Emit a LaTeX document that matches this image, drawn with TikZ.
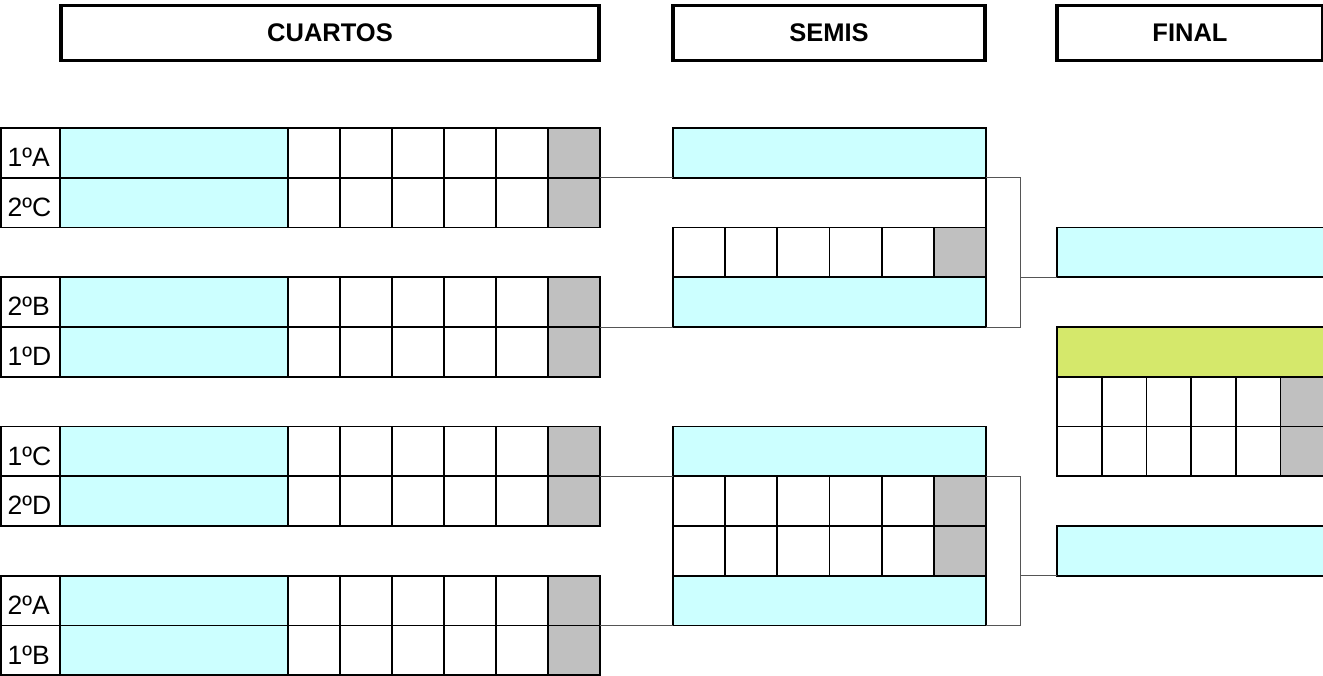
\documentclass[tikz,border=0pt]{standalone}
\usepackage{fontspec}
\setmainfont{Liberation Sans}
\definecolor{namecyan}{HTML}{CCFFFF}
\definecolor{tiegray}{HTML}{C0C0C0}
\definecolor{finalgreen}{HTML}{D5E86B}
\definecolor{connline}{HTML}{555555}
\newcommand\qfrow[3]{%
  \node[cell,minimum width=59pt] (#1-l) at (1,#2) {};
  \node[lbl] at ([xshift=6.5pt,yshift=-38.5pt]#1-l.north west) {#3};
  \node[namebox,minimum width=228pt] (#1-n) at (60,#2) {};
  \foreach \i in {1,...,5} \node[score,minimum width=52pt] (#1-\i) at ({288+52*(\i-1)},#2) {};
  \node[tie,minimum width=52pt] (#1-6) at (548,#2) {};
}
\newcommand\cellrow[4]{%
  \foreach \i in {1,...,5} \node[score,minimum width=#4pt] (#1-\i) at ({#2+#4*(\i-1)},#3) {};
  \node[tie,minimum width=#4pt] (#1-6) at ({#2+5*#4},#3) {};
}
\begin{document}
\begin{tikzpicture}[x=1pt,y=-1pt,
  cell/.style={draw=black,line width=1.7pt,inner sep=0pt,outer sep=0pt,anchor=north west,minimum height=49.75pt},
  namebox/.style={cell,fill=namecyan},
  greenbox/.style={cell,fill=finalgreen},
  score/.style={cell,fill=white},
  tie/.style={cell,fill=tiegray},
  head/.style={draw=black,line width=3.6pt,inner sep=0pt,outer sep=0pt,anchor=north west,minimum height=55pt,font=\bfseries\fontsize{25.5}{30}\selectfont},
  lbl/.style={anchor=base west,inner sep=0pt,font=\fontsize{26.5}{30}\selectfont},
  conn/.style={draw=connline,line width=0.9pt}]
\useasboundingbox (0,0) rectangle (1323,675);
\clip (0,0) rectangle (1323,675);
\fill[white] (0,0) rectangle (1323,675);

% headers
\node[head,minimum width=538pt] (hq) at (61,5.5) {CUARTOS};
\node[head,minimum width=312pt] (hs) at (673,5.5) {SEMIS};
\node[head,minimum width=266pt] (hf) at (1057,5.5) {FINAL};

% quarter finals
\qfrow{q1a}{128}{1ºA}
\qfrow{q1b}{177.75}{2ºC}
\qfrow{q2a}{277.25}{2ºB}
\qfrow{q2b}{327}{1ºD}
\qfrow{q3a}{426.5}{1ºC}
\qfrow{q3b}{476.25}{2ºD}
\qfrow{q4a}{575.75}{2ºA}
\qfrow{q4b}{625.5}{1ºB}

% semi finals
\node[namebox,minimum width=313pt] (s1a) at (673,128) {};
\cellrow{s1c}{673}{227.5}{52.17}
\node[namebox,minimum width=313pt] (s1b) at (673,277.25) {};
\draw[black,line width=1.7pt] (s1a.south east) -- (s1c-6.north east);

\node[namebox,minimum width=313pt] (s2a) at (673,426.5) {};
\cellrow{s2c}{673}{476.25}{52.17}
\cellrow{s2d}{673}{526}{52.17}
\node[namebox,minimum width=313pt] (s2b) at (673,575.75) {};

% final
\node[namebox,minimum width=275pt] (f1) at (1057,227.5) {};
\node[greenbox,minimum width=275pt] (fg) at (1057,327) {};
\cellrow{fc}{1057}{376.75}{44.7}
\cellrow{fd}{1057}{426.5}{44.7}
\node[namebox,minimum width=275pt] (f2) at (1057,526) {};

% connectors
\coordinate (b1t) at (1020,177.75);
\coordinate (b1b) at (1020,327);
\coordinate (b2t) at (1020,476.25);
\coordinate (b2b) at (1020,625.5);
\draw[conn] (q1a-6.south east) -- (s1a.south west);
\draw[conn] (q2a-6.south east) -- (s1b.south west);
\draw[conn] (s1a.south east) -- (b1t) -- (b1b) -- (s1b.south east);
\draw[conn] (b1t |- f1.south west) -- (f1.south west);
\draw[conn] (q3a-6.south east) -- (s2a.south west);
\draw[conn] (q4a-6.south east) -- (s2b.south west);
\draw[conn] (s2a.south east) -- (b2t) -- (b2b) -- (s2b.south east);
\draw[conn] (b2t |- f2.south west) -- (f2.south west);
\end{tikzpicture}
\end{document}
